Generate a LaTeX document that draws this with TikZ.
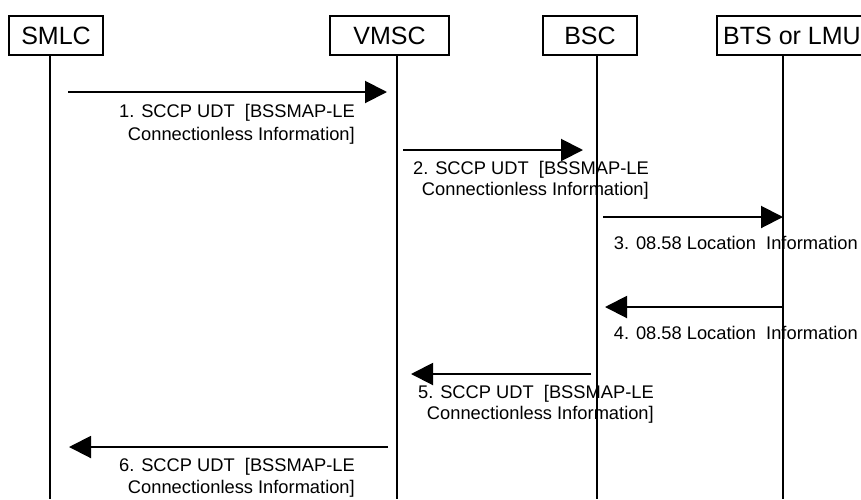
\documentclass[tikz,border=0pt]{standalone}
\usepackage{fontspec}
\setmainfont{Liberation Sans}
\usetikzlibrary{arrows.meta}
\begin{document}
\begin{tikzpicture}[
      x=1pt, y=-1pt,
      font=\fontsize{18.3}{21.5}\selectfont,
      einheit/.style={draw, line width=1.3pt, minimum height=39pt, inner sep=0pt, font=\fontsize{25}{28}\selectfont},
      linie/.style={line width=1.3pt},
      pfeil/.style={-{Triangle[length=22pt, width=22pt]}, line width=2pt},
      beschriftung/.style={anchor=north east, align=right, inner sep=0pt}
    ]
      \clip (0,0) rectangle (861,499);
      \node[einheit, minimum width=94pt] (smlc) at (56,35.5) {SMLC};
      \node[einheit, minimum width=119pt] (vmsc) at (389.5,35.5) {VMSC};
      \node[einheit, minimum width=94pt] (bsc) at (590,35.5) {BSC};
      \node[einheit, minimum width=150pt] (bts) at (792,35.5) {BTS or LMU};
      \coordinate (smlc-ende) at (50,499);
      \coordinate (vmsc-ende) at (397,499);
      \coordinate (bsc-ende) at (597,499);
      \coordinate (bts-ende) at (783,499);
      \draw[linie] (smlc.south -| smlc-ende) -- (smlc-ende);
      \draw[linie] (vmsc.south -| vmsc-ende) -- (vmsc-ende);
      \draw[linie] (bsc.south -| bsc-ende) -- (bsc-ende);
      \draw[linie] (bts.south -| bts-ende) -- (bts-ende);
      \coordinate (m1a) at (68,92);   \coordinate (m1b) at (387,92);
      \coordinate (m2a) at (403,150); \coordinate (m2b) at (583,150);
      \coordinate (m3a) at (603,217); \coordinate (m3b) at (783,217);
      \coordinate (m4a) at (783,307); \coordinate (m4b) at (605,307);
      \coordinate (m5a) at (591,374); \coordinate (m5b) at (411,374);
      \coordinate (m6a) at (388,447); \coordinate (m6b) at (69,447);
      \draw[pfeil] (m1a) -- (m1b);
      \draw[pfeil] (m2a) -- (m2b);
      \draw[pfeil] (m3a) -- (m3b);
      \draw[pfeil] (m4a) -- (m4b);
      \draw[pfeil] (m5a) -- (m5b);
      \draw[pfeil] (m6a) -- (m6b);
      \node[beschriftung] (t1) at (355,104) {1. SCCP UDT\ \ [BSSMAP-LE\\[2pt] Connectionless Information]};
      \node[beschriftung] (t2) at (649,161) {2. SCCP UDT\ \ [BSSMAP-LE\\ Connectionless Information]};
      \node[beschriftung] (t3) at (858,236) {3. 08.58 Location\ \ Information};
      \node[beschriftung] (t4) at (858,326) {4. 08.58 Location\ \ Information};
      \node[beschriftung] (t5) at (654,385) {5. SCCP UDT\ \ [BSSMAP-LE\\ Connectionless Information]};
      \node[beschriftung] (t6) at (355,458.5) {6. SCCP UDT\ \ [BSSMAP-LE\\ Connectionless Information]};
    \end{tikzpicture}
\end{document}
